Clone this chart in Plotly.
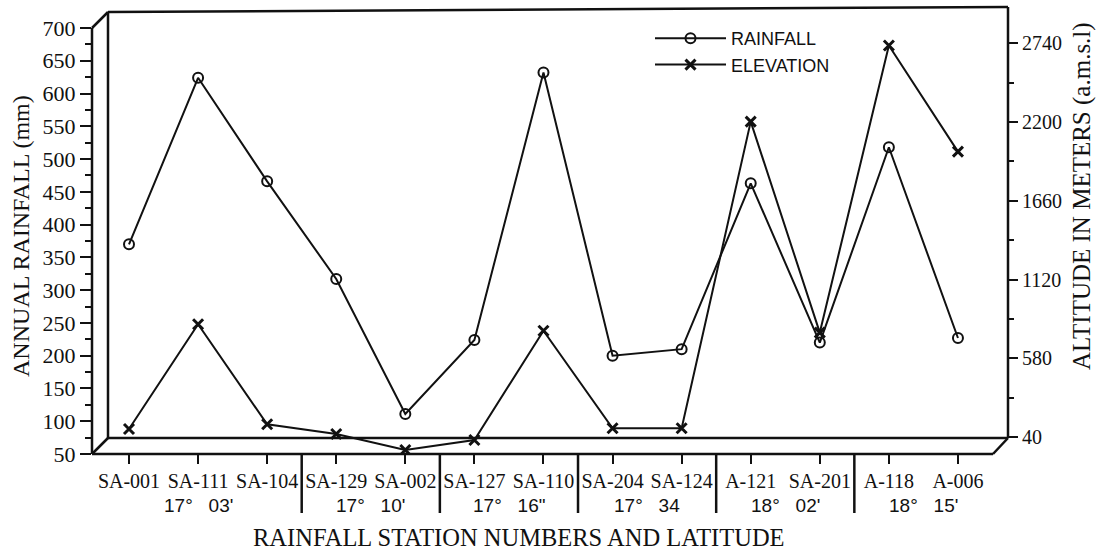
import plotly.graph_objects as go

# ---------------- data ----------------
stations = ["SA-001", "SA-111", "SA-104", "SA-129", "SA-002", "SA-127", "SA-110",
            "SA-204", "SA-124", "A-121", "SA-201", "A-118", "A-006"]
rainfall_mm = [370, 624, 466, 317, 111, 224, 632, 200, 210, 463, 220, 518, 227]
elevation_m = [95, 813, 127, 61, -49, 19, 769, 100, 100, 2203, 756, 2725, 1997]

latitude_labels = ["17°\u00a0\u00a0\u00a003'", "17°\u00a0\u00a0\u00a010'", "17°\u00a0\u00a0\u00a016\"",
                   "17°\u00a0\u00a0\u00a034", "18°\u00a0\u00a0\u00a002'", "18°\u00a0\u00a0\u00a015'"]
latitude_group_sizes = [3, 2, 2, 2, 2, 2]

left_ticks = list(range(50, 701, 50))
right_ticks = [40, 580, 1120, 1660, 2200, 2740]

# ---------------- layout geometry (pixels) ----------------
W, H = 1099, 552
L, R, T, B = 92, 1008, 12, 454          # plot area (front-left axis .. right axis)
X0_PX, DX_PX = 129, 69.08               # first category centre and spacing
SERIF = "Liberation Serif, Times New Roman, serif"
SANS = "Liberation Sans, Arial, sans-serif"
INK = "#111111"

def px(x):
    return (x - L) / (R - L)

def py(y):
    return (B - y) / (B - T)

x_range = [(L - X0_PX) / DX_PX, (R - X0_PX) / DX_PX]
y_range = [50, 724.4]
y2_range = [-76.6, 2954.7]

idx = list(range(len(stations)))

fig = go.Figure()
fig.add_trace(go.Scatter(
    x=idx, y=rainfall_mm, name="RAINFALL", mode="lines+markers",
    line=dict(color=INK, width=2),
    marker=dict(symbol="circle-open", size=10, color=INK, line=dict(width=2)),
))
fig.add_trace(go.Scatter(
    x=idx, y=elevation_m, name="ELEVATION", mode="lines+markers", yaxis="y2",
    line=dict(color=INK, width=2),
    marker=dict(symbol="x-thin-open", size=10, color=INK, line=dict(width=3)),
))

# ---------------- 3-D style frame (decoration) ----------------
frame = [
    ((92, 454), (92, 28)),      # front-left axis
    ((92, 28), (108, 12)),      # top-left bevel
    ((108, 12), (108, 438)),    # back-left wall edge
    ((92, 454), (108, 438)),    # bottom-left bevel
    ((108, 438), (1008, 438)),  # back floor edge
    ((92, 454), (993, 454)),    # front floor edge
    ((993, 454), (1008, 438)),  # bottom-right bevel
    ((1008, 438), (1008, 7)),   # right axis
    ((108, 12), (1008, 7)),     # top edge
]
shapes = []
for (xa, ya), (xb, yb) in frame:
    shapes.append(dict(type="line", xref="paper", yref="paper",
                       x0=px(xa), y0=py(ya), x1=px(xb), y1=py(yb),
                       line=dict(color=INK, width=2.5)))

# group separators and latitude labels
annotations = []
start = 0
for lab, n in zip(latitude_labels, latitude_group_sizes):
    centre = start + (n - 1) / 2
    annotations.append(dict(x=centre, y=py(505), xref="x", yref="paper",
                            xanchor="center", yanchor="middle",
                            text=lab, showarrow=False,
                            font=dict(family=SANS, size=19, color=INK)))
    end = start + n
    if end < len(stations):
        shapes.append(dict(type="line", xref="x", yref="paper",
                           x0=end - 0.5, x1=end - 0.5, y0=py(454), y1=py(513),
                           line=dict(color=INK, width=2.5)))
    start = end

annotations += [
    dict(x=px(519), y=py(537), xref="paper", yref="paper", showarrow=False,
         xanchor="center", yanchor="middle",
         text="RAINFALL STATION NUMBERS AND LATITUDE",
         font=dict(family=SERIF, size=24.5, color=INK)),
    dict(x=px(21), y=py(236), xref="paper", yref="paper", showarrow=False,
         xanchor="center", yanchor="middle",
         text="ANNUAL RAINFALL (mm)", textangle=-90,
         font=dict(family=SERIF, size=24, color=INK)),
    dict(x=px(1082), y=py(196), xref="paper", yref="paper", showarrow=False,
         xanchor="center", yanchor="middle",
         text="ALTITUDE IN METERS (a.m.s.l)", textangle=-90,
         font=dict(family=SERIF, size=25, color=INK)),
]

fig.update_layout(
    width=W, height=H,
    margin=dict(l=L, r=W - R, t=T, b=H - B, pad=0),
    paper_bgcolor="white", plot_bgcolor="white",
    showlegend=True,
    legend=dict(x=px(650), y=py(20), xanchor="left", yanchor="top",
                bgcolor="rgba(0,0,0,0)", borderwidth=0,
                font=dict(family=SANS, size=18, color=INK),
                itemwidth=71, tracegroupgap=0),
    xaxis=dict(range=x_range, tickmode="array", tickvals=idx, ticktext=stations,
               showgrid=False, zeroline=False, showline=False,
               ticks="outside", ticklen=9, tickwidth=2, tickcolor=INK,
               tickfont=dict(family=SERIF, size=20, color=INK)),
    yaxis=dict(range=y_range, tickmode="array", tickvals=left_ticks,
               showgrid=False, zeroline=False, showline=False,
               ticks="outside", ticklen=11, tickwidth=2, tickcolor=INK,
               tickfont=dict(family=SERIF, size=22, color=INK),
               minor=dict(dtick=25, tick0=50, ticks="outside", ticklen=6,
                          tickwidth=1.5, tickcolor=INK)),
    yaxis2=dict(range=y2_range, overlaying="y", side="right",
                tickmode="array", tickvals=right_ticks,
                showgrid=False, zeroline=False, showline=False,
                ticks="outside", ticklen=9, tickwidth=2, tickcolor=INK,
                tickfont=dict(family=SERIF, size=20, color=INK),
                minor=dict(dtick=270, tick0=40, ticks="outside", ticklen=5,
                           tickwidth=1.5, tickcolor=INK)),
    shapes=shapes,
    annotations=annotations,
)

fig.write_html("out.html")
